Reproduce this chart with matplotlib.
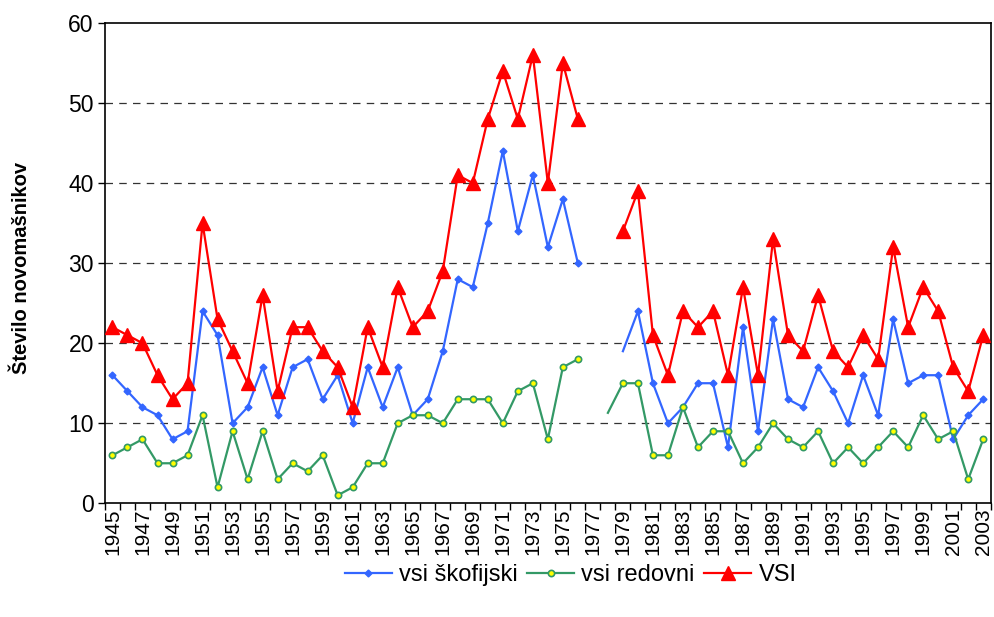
import numpy as np
import matplotlib
matplotlib.use("Agg")
import matplotlib.pyplot as plt

plt.rcParams['font.family'] = ['Liberation Sans', 'DejaVu Sans']

years = np.arange(1945, 2004)
nan = np.nan

# vsi škofijski
skofijski = [16, 14, 12, 11, 8, 9, 24, 21, 10, 12,
             17, 11, 17, 18, 13, 16, 10, 17, 12, 17,
             11, 13, 19, 28, 27, 35, 44, 34, 41, 32,
             38, 30, nan, nan, 19, 24, 15, 10, 12, 15,
             15, 7, 22, 9, 23, 13, 12, 17, 14, 10,
             16, 11, 23, 15, 16, 16, 8, 11, 13]

# vsi redovni
redovni = [6, 7, 8, 5, 5, 6, 11, 2, 9, 3,
           9, 3, 5, 4, 6, 1, 2, 5, 5, 10,
           11, 11, 10, 13, 13, 13, 10, 14, 15, 8,
           17, 18, nan, 11.3, 15, 15, 6, 6, 12, 7,
           9, 9, 5, 7, 10, 8, 7, 9, 5, 7,
           5, 7, 9, 7, 11, 8, 9, 3, 8]

# VSI
vsi = [22, 21, 20, 16, 13, 15, 35, 23, 19, 15,
       26, 14, 22, 22, 19, 17, 12, 22, 17, 27,
       22, 24, 29, 41, 40, 48, 54, 48, 56, 40,
       55, 48, nan, nan, 34, 39, 21, 16, 24, 22,
       24, 16, 27, 16, 33, 21, 19, 26, 19, 17,
       21, 18, 32, 22, 27, 24, 17, 14, 21]

x = np.arange(len(years))

fig = plt.figure(figsize=(9.94, 6.17), dpi=100)
ax = fig.add_axes([0.1056, 0.1843, 0.8911, 0.7784])

ax.plot(x, skofijski, color='#3366FF', lw=1.6, marker='D', ms=3.5,
        mfc='#3366FF', mec='#3366FF', markevery=list(years != 1979),
        label='vsi škofijski', zorder=3)
ax.plot(x, redovni, color='#339966', lw=1.6, marker='o', ms=4.5,
        mfc='#FFFF00', mec='#339966', mew=1.2, markevery=list(years != 1978),
        label='vsi redovni', zorder=3)
ax.plot(x, vsi, color='#FF0000', lw=1.6, marker='^', ms=9.5,
        mfc='#FF0000', mec='#FF0000', label='VSI', zorder=4)

ax.set_xlim(-0.5, len(years) - 0.5)
ax.set_ylim(0, 60)
ax.set_yticks(range(0, 61, 10))
ax.tick_params(axis='y', labelsize=16.5, length=5, width=1, direction='out', pad=3)

# category ticks between years, labels every second year
ax.set_xticks(x[::2])
ax.set_xticklabels([str(y) for y in years[::2]], rotation=90, fontsize=15)
ax.set_xticks(np.arange(-0.5, len(years)), minor=True)
ax.tick_params(axis='x', which='major', length=0, pad=4)
ax.tick_params(axis='x', which='minor', length=5, width=1, direction='out')

for yv in range(10, 60, 10):
    ax.axhline(yv, color='#333333', lw=0.9, ls=(0, (6, 5)), zorder=1)

for s in ax.spines.values():
    s.set_linewidth(1.2)

ax.set_ylabel('Število novomašnikov', fontsize=14.5, fontweight='bold')
ax.yaxis.set_label_coords(-0.083, 0.49)

fig.legend(loc='center', bbox_to_anchor=(0.574, 0.068), ncol=3, frameon=False,
           fontsize=17, handlelength=2.0, columnspacing=0.4, handletextpad=0.3)

fig.savefig('out.png', dpi=100)
